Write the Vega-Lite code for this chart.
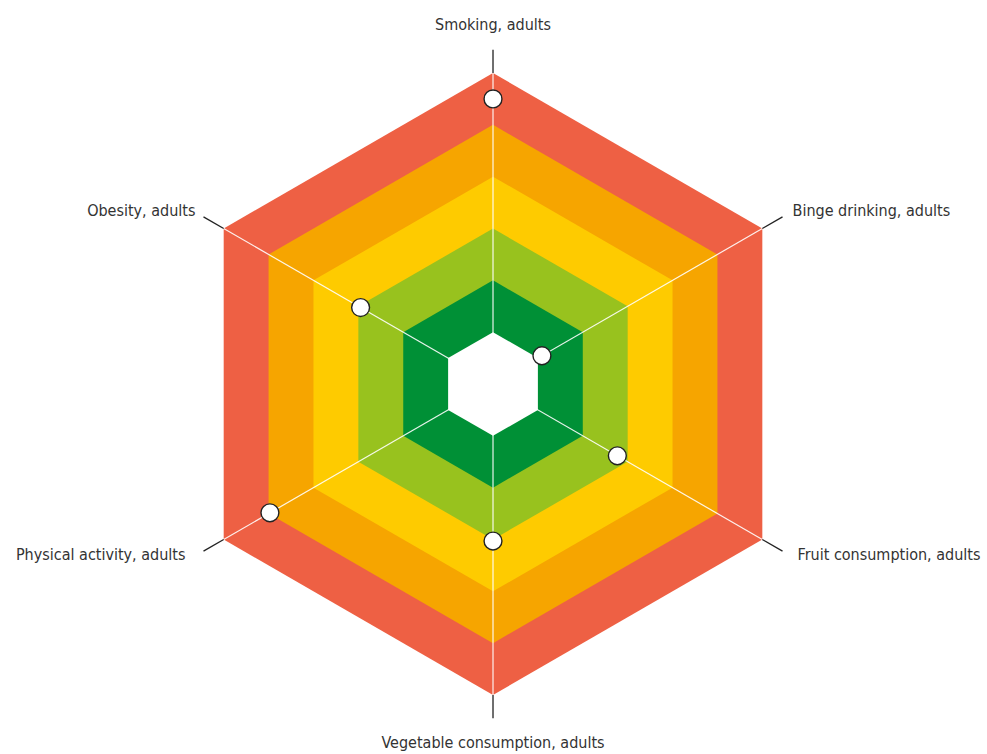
{
  "$schema": "https://vega.github.io/schema/vega-lite/v6.json",
  "width": 987,
  "height": 754,
  "autosize": "none",
  "padding": 0,
  "background": "white",
  "config": {"view": {"stroke": null}, "text": {"font": "DejaVu Sans Condensed", "fontSize": 16, "color": "#333333"}},
  "datasets": {
    "axes": [
      {"axis": "Smoking, adults", "k": 0, "value": 5.5},
      {"axis": "Binge drinking, adults", "k": 1, "value": 1.09},
      {"axis": "Fruit consumption, adults", "k": 2, "value": 2.77},
      {"axis": "Vegetable consumption, adults", "k": 3, "value": 3.03},
      {"axis": "Physical activity, adults", "k": 4, "value": 4.97},
      {"axis": "Obesity, adults", "k": 5, "value": 2.95}
    ],
    "bands": [
      {"band": "6", "level": 6, "side": [-1, 0, 1]},
      {"band": "5", "level": 5, "side": [-1, 0, 1]},
      {"band": "4", "level": 4, "side": [-1, 0, 1]},
      {"band": "3", "level": 3, "side": [-1, 0, 1]},
      {"band": "2", "level": 2, "side": [-1, 0, 1]},
      {"band": "1", "level": 1, "side": [-1, 0, 1]}
    ]
  },
  "layer": [
    {
      "data": {"name": "bands"},
      "transform": [
        {"flatten": ["side"]},
        {"calculate": "datum.side * datum.level * sqrt(3) / 2", "as": "x"},
        {"calculate": "datum.level * (1 - 0.5 * abs(datum.side))", "as": "y"},
        {"calculate": "-datum.y", "as": "y0"}
      ],
      "mark": {"type": "area", "opacity": 1},
      "encoding": {
        "x": {"field": "x", "type": "quantitative", "scale": {"domain": [-9.512, 9.531], "nice": false, "zero": false}, "axis": null},
        "y": {"field": "y", "type": "quantitative", "stack": null, "scale": {"domain": [-7.139, 7.409], "nice": false, "zero": false}, "axis": null},
        "y2": {"field": "y0"},
        "color": {
          "field": "band", "type": "nominal", "legend": null,
          "scale": {"domain": ["6", "5", "4", "3", "2", "1"], "range": ["#EE6044", "#F6A500", "#FECB00", "#98C21E", "#009036", "#FFFFFF"]}
        }
      }
    },
    {
      "data": {"name": "axes"},
      "transform": [
        {"calculate": "0", "as": "x"},
        {"calculate": "0", "as": "y"},
        {"calculate": "6 * sin(PI * datum.k / 3)", "as": "x2"},
        {"calculate": "6 * cos(PI * datum.k / 3)", "as": "y2"}
      ],
      "mark": {"type": "rule", "color": "#FFFFFF", "strokeWidth": 1.2, "opacity": 0.9},
      "encoding": {
        "x": {"field": "x", "type": "quantitative"},
        "y": {"field": "y", "type": "quantitative"},
        "x2": {"field": "x2"}, "y2": {"field": "y2"}
      }
    },
    {
      "data": {"name": "axes"},
      "transform": [
        {"calculate": "6 * sin(PI * datum.k / 3)", "as": "x"},
        {"calculate": "6 * cos(PI * datum.k / 3)", "as": "y"},
        {"calculate": "6.45 * sin(PI * datum.k / 3)", "as": "x2"},
        {"calculate": "6.45 * cos(PI * datum.k / 3)", "as": "y2"}
      ],
      "mark": {"type": "rule", "color": "#222222", "strokeWidth": 1.3},
      "encoding": {
        "x": {"field": "x", "type": "quantitative"},
        "y": {"field": "y", "type": "quantitative"},
        "x2": {"field": "x2"}, "y2": {"field": "y2"}
      }
    },
    {
      "data": {"name": "axes"},
      "transform": [
        {"calculate": "datum.value * sin(PI * datum.k / 3)", "as": "x"},
        {"calculate": "datum.value * cos(PI * datum.k / 3)", "as": "y"}
      ],
      "mark": {"type": "point", "shape": "circle", "filled": true, "fill": "#FFFFFF", "stroke": "#222222", "strokeWidth": 1.4, "size": 320, "opacity": 1},
      "encoding": {
        "x": {"field": "x", "type": "quantitative"},
        "y": {"field": "y", "type": "quantitative"},
        "tooltip": [{"field": "axis"}, {"field": "value"}]
      }
    },
    {
      "data": {"name": "axes"},
      "transform": [
        {"filter": "datum.k == 0 || datum.k == 3"},
        {"calculate": "6.93 * sin(PI * datum.k / 3)", "as": "x"},
        {"calculate": "6.93 * cos(PI * datum.k / 3)", "as": "y"}
      ],
      "mark": {"type": "text", "align": "center", "baseline": "middle"},
      "encoding": {
        "x": {"field": "x", "type": "quantitative"},
        "y": {"field": "y", "type": "quantitative"},
        "text": {"field": "axis"}
      }
    },
    {
      "data": {"name": "axes"},
      "transform": [
        {"filter": "datum.k == 1"},
        {"calculate": "6.45 * sin(PI * datum.k / 3)", "as": "x"},
        {"calculate": "6.45 * cos(PI * datum.k / 3)", "as": "y"}
      ],
      "mark": {"type": "text", "align": "left", "baseline": "middle", "dx": 10, "dy": -5.5},
      "encoding": {
        "x": {"field": "x", "type": "quantitative"},
        "y": {"field": "y", "type": "quantitative"},
        "text": {"field": "axis"}
      }
    },
    {
      "data": {"name": "axes"},
      "transform": [
        {"filter": "datum.k == 2"},
        {"calculate": "6.45 * sin(PI * datum.k / 3)", "as": "x"},
        {"calculate": "6.45 * cos(PI * datum.k / 3)", "as": "y"}
      ],
      "mark": {"type": "text", "align": "left", "baseline": "middle", "dx": 15, "dy": 4},
      "encoding": {
        "x": {"field": "x", "type": "quantitative"},
        "y": {"field": "y", "type": "quantitative"},
        "text": {"field": "axis"}
      }
    },
    {
      "data": {"name": "axes"},
      "transform": [
        {"filter": "datum.k == 4"},
        {"calculate": "6.45 * sin(PI * datum.k / 3)", "as": "x"},
        {"calculate": "6.45 * cos(PI * datum.k / 3)", "as": "y"}
      ],
      "mark": {"type": "text", "align": "right", "baseline": "middle", "dx": -18, "dy": 4},
      "encoding": {
        "x": {"field": "x", "type": "quantitative"},
        "y": {"field": "y", "type": "quantitative"},
        "text": {"field": "axis"}
      }
    },
    {
      "data": {"name": "axes"},
      "transform": [
        {"filter": "datum.k == 5"},
        {"calculate": "6.45 * sin(PI * datum.k / 3)", "as": "x"},
        {"calculate": "6.45 * cos(PI * datum.k / 3)", "as": "y"}
      ],
      "mark": {"type": "text", "align": "right", "baseline": "middle", "dx": -8, "dy": -5.5},
      "encoding": {
        "x": {"field": "x", "type": "quantitative"},
        "y": {"field": "y", "type": "quantitative"},
        "text": {"field": "axis"}
      }
    }
  ]
}
